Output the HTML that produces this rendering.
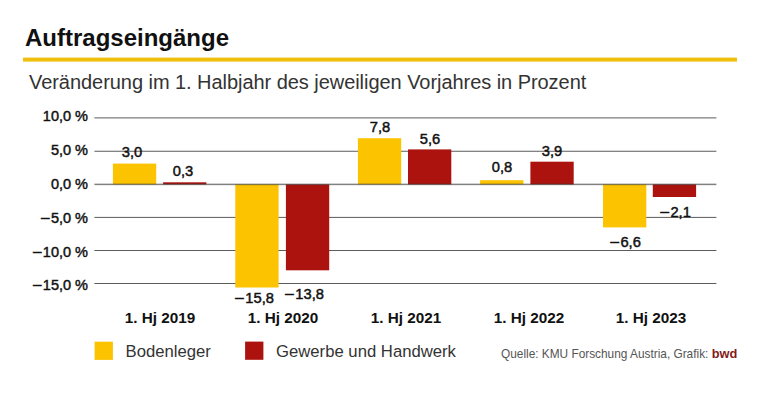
<!DOCTYPE html>
<html><head><meta charset="utf-8">
<style>
html,body{margin:0;padding:0;background:#fff;}
body{width:768px;height:400px;position:relative;overflow:hidden;font-family:"Liberation Sans",sans-serif;color:#111;}
.g{position:absolute;left:0;top:0;}
.a{position:absolute;white-space:nowrap;line-height:1;}
.title{left:25px;top:25.5px;font-size:24px;font-weight:bold;color:#111;}
.sub{left:29px;top:72.2px;font-size:20px;color:#333;letter-spacing:-0.05px;}
.yl{right:680px;font-size:14.5px;-webkit-text-stroke:0.45px #111;text-align:right;transform:scaleX(1.0);transform-origin:right center;}
.v{font-size:14px;-webkit-text-stroke:0.45px #111;width:50px;text-align:center;transform:scaleX(1.05);}
.xl{font-size:15px;font-weight:bold;width:120px;text-align:center;top:310px;transform:scaleX(1.02);}
.lg{font-size:16.7px;top:343.6px;color:#333;}
.src{left:501px;top:347.6px;font-size:11.85px;color:#555;}
.src b{color:#821a20;font-size:12.8px;}
.mn{display:inline-block;transform:scaleX(1.2);transform-origin:left center;margin-right:2.6px;}
</style></head><body>
<svg class="g" width="768" height="400" viewBox="0 0 768 400"><rect x="94.4" y="117.40" width="622" height="1.0" fill="#5c5c5c"/><rect x="94.4" y="150.75" width="622" height="1.0" fill="#5c5c5c"/><rect x="94.4" y="216.90" width="622" height="1.0" fill="#5c5c5c"/><rect x="94.4" y="250.00" width="622" height="1.0" fill="#5c5c5c"/><rect x="94.4" y="283.00" width="622" height="1.0" fill="#5c5c5c"/><rect x="112.9" y="163.6" width="43.3" height="20.80" fill="#FCC300"/><rect x="163.1" y="182.3" width="43.3" height="2.10" fill="#AC130E"/><rect x="235.3" y="184.4" width="43.3" height="103.10" fill="#FCC300"/><rect x="285.9" y="184.4" width="43.3" height="85.90" fill="#AC130E"/><rect x="357.9" y="138.2" width="43.3" height="46.20" fill="#FCC300"/><rect x="408.0" y="149.4" width="43.3" height="35.00" fill="#AC130E"/><rect x="480.1" y="180.2" width="43.3" height="4.20" fill="#FCC300"/><rect x="530.4" y="161.7" width="43.3" height="22.70" fill="#AC130E"/><rect x="603.0" y="184.4" width="43.3" height="43.00" fill="#FCC300"/><rect x="652.8" y="184.4" width="43.3" height="12.60" fill="#AC130E"/><rect x="94.4" y="183.65" width="622" height="1.5" fill="#333" fill-opacity="0.62"/><rect x="94.6" y="341.7" width="18.3" height="18.2" fill="#FCC300"/><rect x="245.1" y="341.6" width="18.3" height="18.2" fill="#AC130E"/><rect x="23" y="57.6" width="714" height="4" fill="#F0BE0C"/></svg><div class="a title">Auftragseingänge</div>
<div class="a sub">Veränderung im 1. Halbjahr des jeweiligen Vorjahres in Prozent</div>
<div class="a yl" style="top:109.2px">10,0 %</div>
<div class="a yl" style="top:143.1px">5,0 %</div>
<div class="a yl" style="top:177.0px">0,0 %</div>
<div class="a yl" style="top:210.9px"><span class="mn">−</span>5,0 %</div>
<div class="a yl" style="top:244.8px"><span class="mn">−</span>10,0 %</div>
<div class="a yl" style="top:278.2px"><span class="mn">−</span>15,0 %</div>
<div class="a v" style="left:107.3px;top:145.2px">3,0</div>
<div class="a v" style="left:157.6px;top:164.4px">0,3</div>
<div class="a v" style="left:229.0px;top:291.0px"><span class="mn">−</span>15,8</div>
<div class="a v" style="left:279.4px;top:286.8px"><span class="mn">−</span>13,8</div>
<div class="a v" style="left:354.5px;top:119.5px">7,8</div>
<div class="a v" style="left:404.9px;top:131.5px">5,6</div>
<div class="a v" style="left:476.9px;top:160.0px">0,8</div>
<div class="a v" style="left:527.0px;top:143.6px">3,9</div>
<div class="a v" style="left:599.5px;top:235.0px"><span class="mn">−</span>6,6</div>
<div class="a v" style="left:649.6px;top:204.6px"><span class="mn">−</span>2,1</div>
<div class="a xl" style="left:100.1px">1. Hj 2019</div>
<div class="a xl" style="left:223.0px">1. Hj 2020</div>
<div class="a xl" style="left:346.2px">1. Hj 2021</div>
<div class="a xl" style="left:468.9px">1. Hj 2022</div>
<div class="a xl" style="left:591.4px">1. Hj 2023</div>
<div class="a lg" style="left:125.5px">Bodenleger</div>
<div class="a lg" style="left:276px">Gewerbe und Handwerk</div>
<div class="a src">Quelle: KMU Forschung Austria, Grafik: <b>bwd</b></div>
</body></html>
